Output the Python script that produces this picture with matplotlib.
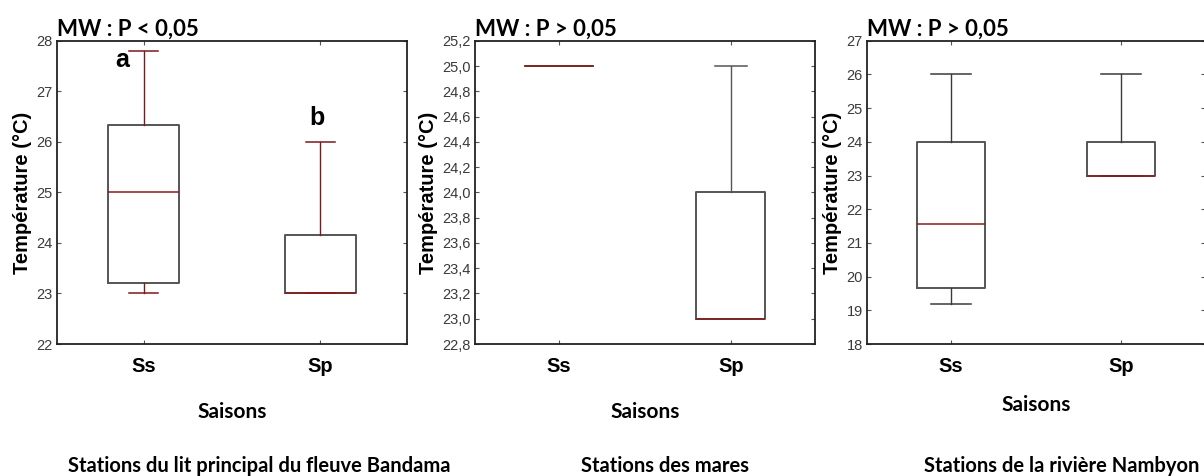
import matplotlib
matplotlib.use("Agg")
import matplotlib.pyplot as plt
from matplotlib.ticker import FuncFormatter, MultipleLocator

# Saisons : Ss = saison sèche, Sp = saison des pluies
saisons = ["Ss", "Sp"]

# Statistiques des boîtes (température en °C) par groupe de stations
bandama_min = [23.0, 23.0]
bandama_q1 = [23.2, 23.0]
bandama_med = [25.0, 23.0]
bandama_q3 = [26.33, 24.15]
bandama_max = [27.8, 26.0]

mares_min = [25.0, 23.0]
mares_q1 = [25.0, 23.0]
mares_med = [25.0, 23.0]
mares_q3 = [25.0, 24.0]
mares_max = [25.0, 25.0]

nambyon_min = [19.2, 23.0]
nambyon_q1 = [19.65, 23.0]
nambyon_med = [21.55, 23.0]
nambyon_q3 = [24.0, 24.0]
nambyon_max = [26.0, 26.0]

titres_test = ["MW : P < 0,05", "MW : P > 0,05", "MW : P > 0,05"]
titres_stations = ["Stations du lit principal du fleuve Bandama",
                   "Stations des mares",
                   "Stations de la rivière Nambyon"]
lettres_bandama = ["a", "b"]

arial = ["Liberation Sans", "DejaVu Sans"]
calibri = ["Lato", "Open Sans", "DejaVu Sans"]


def stats(mins, q1s, meds, q3s, maxs):
    return [dict(whislo=a, q1=b, med=c, q3=d, whishi=e, fliers=[], label=s)
            for a, b, c, d, e, s in zip(mins, q1s, meds, q3s, maxs, saisons)]


panneaux = [
    dict(rect=[0.0473, 0.2773, 0.2907, 0.637],
         data=stats(bandama_min, bandama_q1, bandama_med, bandama_q3, bandama_max),
         ylim=(22, 28), pas=1, dec=0, whisk="#7a1a1a", cap=0.165,
         titre_x=0.215, saisons_y=-0.224),
    dict(rect=[0.3945, 0.2773, 0.2824, 0.637],
         data=stats(mares_min, mares_q1, mares_med, mares_q3, mares_max),
         ylim=(22.8, 25.2), pas=0.2, dec=1, whisk="#555555", cap=0.19,
         titre_x=0.552, saisons_y=-0.224),
    dict(rect=[0.7201, 0.2773, 0.2807, 0.637],
         data=stats(nambyon_min, nambyon_q1, nambyon_med, nambyon_q3, nambyon_max),
         ylim=(18, 27), pas=1, dec=0, whisk="#3a3a3a", cap=0.235,
         titre_x=0.882, saisons_y=-0.201),
]

fig = plt.figure(figsize=(12.04, 4.76), dpi=100)

for i, p in enumerate(panneaux):
    ax = fig.add_axes(p["rect"])
    ax.bxp(p["data"], positions=[0, 1], widths=0.4, showfliers=False,
           boxprops=dict(color="#555555", linewidth=1.4),
           medianprops=dict(color="#8b1a1a", linewidth=1.1),
           whiskerprops=dict(color=p["whisk"], linewidth=1.0),
           capprops=dict(color=p["whisk"], linewidth=1.1),
           capwidths=p["cap"])
    ax.set_xlim(-0.49, 1.49)
    ax.set_ylim(*p["ylim"])
    ax.yaxis.set_major_locator(MultipleLocator(p["pas"]))
    dec = p["dec"]
    ax.yaxis.set_major_formatter(
        FuncFormatter(lambda v, _, d=dec: f"{v:.{d}f}".replace(".", ",")))
    ax.set_xticks([0, 1])
    ax.set_xticklabels(saisons, family=arial, fontsize=14.5, fontweight="bold")
    ax.tick_params(axis="x", direction="in", length=3, pad=9, top=True,
                   color="#555555")
    ax.tick_params(axis="y", direction="in", length=3, pad=3, right=True,
                   labelsize=10.5, labelcolor="#3a3a3a", color="#555555")
    for lab in ax.get_yticklabels():
        lab.set_family(arial)
    for sp in ax.spines.values():
        sp.set_linewidth(1.3)
        sp.set_color("#222222")
    ax.set_ylabel("Température (°C)", family=arial, fontsize=14.5,
                  fontweight="bold", labelpad=3)
    ax.set_xlabel("Saisons", family=calibri, fontsize=15,
                  fontweight="bold")
    ax.xaxis.set_label_coords(0.5, p["saisons_y"])
    ax.xaxis.label.set_va("center")
    ax.set_title(titres_test[i], family=calibri, fontsize=16,
                 fontweight="bold", loc="left", pad=4)
    fig.text(p["titre_x"], 0.021, titres_stations[i], family=calibri,
             fontsize=14.5, fontweight="bold", ha="center", va="center")

    if i == 0:
        # lettres de significativité au-dessus des moustaches
        for pos, (lettre, haut) in enumerate(zip(lettres_bandama, bandama_max)):
            decal = (-0.12, -0.18) if pos == 0 else (-0.02, 0.47)
            ax.text(pos + decal[0], haut + decal[1], lettre, family=arial,
                    fontsize=18, fontweight="bold", ha="center", va="center")

fig.savefig("out.png", dpi=100)
